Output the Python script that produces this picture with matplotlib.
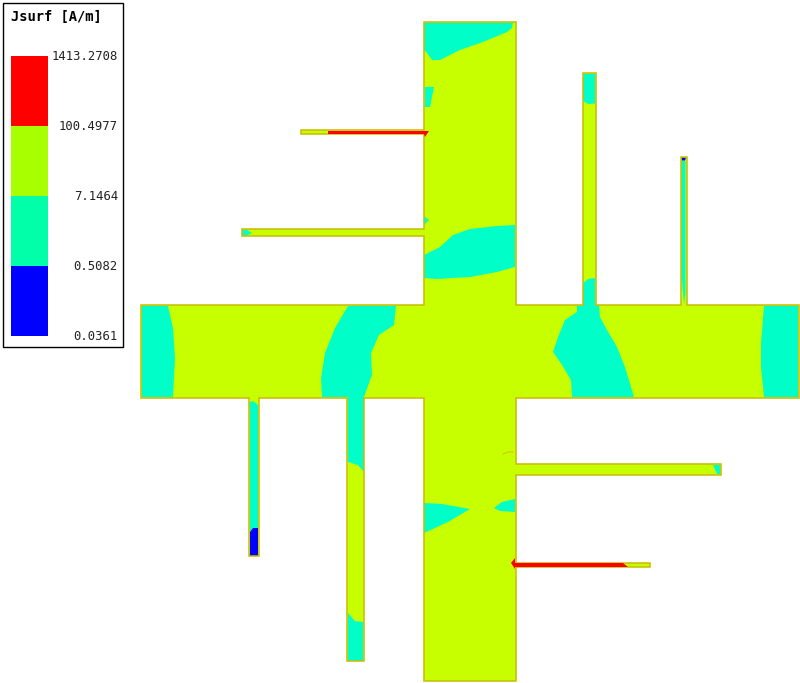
import matplotlib
matplotlib.use('Agg')
import matplotlib.pyplot as plt
from matplotlib.patches import Polygon, Rectangle

# colours of the four field bands
band_colors = ['#ff0000', '#a8ff00', '#00ffa8', '#0000ff']
band_labels = ['1413.2708', '100.4977', '7.1464', '0.5082', '0.0361']
title = 'Jsurf [A/m]'

body_color = '#c8ff00'
cyan_color = '#00ffc8'
blue_color = '#0000ff'
red_color = '#ff0000'
edge_color = '#c8bc00'

# everything below is in picture pixels
outline = [(424, 22), (516, 22), (516, 305), (582.5, 305), (582.5, 73), (595.5, 73),
           (595.5, 305), (681, 305), (681, 157), (686.5, 157), (686.5, 305), (799, 305),
           (799, 398), (516, 398), (516, 464), (721, 464), (721, 475), (516, 475),
           (516, 563), (650, 563), (650, 567), (516, 567), (516, 681), (424, 681),
           (424, 398), (364, 398), (364, 661), (347, 661), (347, 398), (259, 398),
           (259, 556), (249, 556), (249, 398), (141, 398), (141, 305), (424, 305),
           (424, 236), (242, 236), (242, 229), (424, 229), (424, 134), (301, 134),
           (301, 130), (424, 130)]

cyan_regions = [
    [(424, 22.7), (513, 22.7), (512, 28), (507, 32), (483, 42), (460, 50), (440, 60), (432, 60), (427, 53), (424, 50)],
    [(425, 87), (434, 87), (430, 107), (425, 107)],
    [(424, 216), (429, 220), (424, 225)],
    [(424, 255), (440, 247), (453, 235), (470, 229), (497, 226), (515, 225), (515, 267), (497, 272), (470, 277), (437, 279), (424, 278)],
    [(242, 229.5), (247, 230), (252, 233), (247, 235.5), (242, 235.5)],
    [(583, 74), (595, 74), (595, 103.5), (588, 104), (583, 101)],
    [(681.5, 161), (685.5, 161), (685.5, 293), (684, 305), (682.5, 287), (681.5, 273)],
    [(583, 283), (588, 279), (595, 278), (595, 305.5), (599, 305.5), (600, 317), (607, 330), (617, 347), (625, 367), (634, 397),
     (572, 397), (571, 380), (562, 365), (553, 352), (558, 337), (565, 320), (577, 312), (577, 306), (583, 306)],
    [(764, 306), (798, 306), (798, 397), (764, 397), (761, 367), (761, 343)],
    [(142, 306), (168, 306), (173, 328), (175, 358), (173, 397), (142, 397)],
    [(348, 306), (396, 306), (394, 325), (379, 335), (371, 353), (372, 375), (364, 397), (364, 472), (358, 465), (348, 462),
     (348, 397), (322, 397), (321, 378), (325, 353), (335, 328)],
    [(250, 402), (253, 401), (258, 405), (258, 528), (253, 528), (250, 532)],
    [(348, 613), (355, 621), (363, 622), (363, 661), (348, 661)],
    [(424, 503), (442, 504), (470, 509), (448, 522), (424, 533)],
    [(494, 508), (502, 502), (515, 499), (515, 512), (500, 511)],
    [(713, 465), (720, 465), (720, 474), (717, 474)],
]
blue_regions = [
    [(681, 157.5), (686, 157.5), (685, 160.5), (682, 160.5)],
    [(250, 532), (253, 528), (258, 528), (258, 556), (250, 556)],
]
red_regions = [
    [(328, 131), (425, 131), (429, 131), (427, 134), (425, 137), (424, 134), (328, 134)],
    [(511, 563), (515, 558), (515, 563), (623, 563), (628, 567), (515, 567), (515, 569)],
]
scratch_x = [503, 508, 513]
scratch_y = [454, 452, 452]

fig = plt.figure(figsize=(8, 6.83), dpi=100)
ax = fig.add_axes([0, 0, 1, 1])
ax.set_xlim(0, 800)
ax.set_ylim(683, 0)
ax.axis('off')

ax.add_patch(Polygon(outline, closed=True, facecolor=body_color, edgecolor='none', zorder=1))
for reg in cyan_regions:
    ax.add_patch(Polygon(reg, closed=True, facecolor=cyan_color, edgecolor='none', zorder=2))
for reg in blue_regions:
    ax.add_patch(Polygon(reg, closed=True, facecolor=blue_color, edgecolor='none', zorder=3))
ax.add_patch(Polygon(outline, closed=True, facecolor='none', edgecolor=edge_color, linewidth=1.1, zorder=4))
for reg in red_regions:
    ax.add_patch(Polygon(reg, closed=True, facecolor=red_color, edgecolor='none', zorder=5))
ax.plot(scratch_x, scratch_y, color=edge_color, linewidth=0.6, zorder=3)

# legend box
ax.add_patch(Rectangle((2.5, 2.5), 120.5, 344.5, facecolor='white', edgecolor='black', linewidth=1.0, zorder=6))
bar_top = 56
bar_step = 69.9
for i, c in enumerate(band_colors):
    ax.add_patch(Rectangle((10.5, bar_top + i * bar_step), 37, bar_step, facecolor=c, edgecolor='none', zorder=7))
for i, lab in enumerate(band_labels):
    ax.text(118, bar_top + i * bar_step + 0.5, lab, ha='right', va='center', family='DejaVu Sans Mono',
            fontsize=8.8, color='#222222', zorder=8)
ax.text(11, 17, title, ha='left', va='center', family='DejaVu Sans Mono', fontweight='bold',
        fontsize=9.9, color='black', zorder=8)

fig.savefig('out.png', dpi=100)
